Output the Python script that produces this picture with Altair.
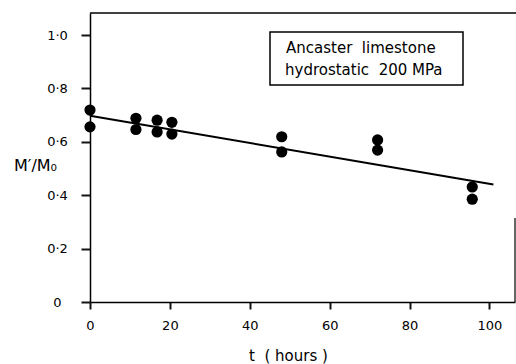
import altair as alt
import pandas as pd

# ---- data ----
t_hours = [0, 0, 11.5, 11.5, 16.8, 16.8, 20.5, 20.5, 48, 48, 72, 72, 95.7, 95.7]
m_ratio = [0.719, 0.656, 0.688, 0.646, 0.681, 0.637, 0.673, 0.629,
           0.619, 0.562, 0.607, 0.569, 0.431, 0.385]

fit_t = [0, 101]
fit_m = [0.698, 0.440]

x_ticks = [0, 20, 40, 60, 80, 100]
y_ticks = [0, 0.2, 0.4, 0.6, 0.8, 1.0]
y_labels = ["0", "0·2", "0·4", "0·6", "0·8", "1·0"]

box_lines = ["Ancaster\u00a0\u00a0limestone", "hydrostatic\u00a0\u00a0200\u00a0MPa"]

X_MAX = 106.4
Y_MAX = 1.0825
W, H = 425, 289
FONT = "DejaVu Sans"
INK = "#141414"

pts = pd.DataFrame({"t": t_hours, "m": m_ratio})
fit = pd.DataFrame({"t": fit_t, "m": fit_m})

label_expr = " : ".join(
    f"abs(datum.value - {v}) < 1e-6 ? '{l}'" for v, l in zip(y_ticks, y_labels)
) + " : ''"

xscale = alt.Scale(domain=[0, X_MAX], nice=False, zero=False)
yscale = alt.Scale(domain=[0, Y_MAX], nice=False, zero=False)

xaxis = alt.Axis(
    values=x_ticks, grid=False, ticks=True, tickSize=7, tickWidth=2, tickColor=INK,
    title="t\u00a0\u00a0( hours )",
    domainWidth=1.5, domainColor="black", labelFlush=False,
    labelFont=FONT, labelFontSize=13, labelColor="black", labelPadding=10,
    titleFont=FONT, titleFontSize=15, titleFontWeight="normal", titleColor="black",
    titleX=198, titleY=58, titleBaseline="alphabetic", titleAlign="center",
)
yaxis = alt.Axis(
    values=y_ticks, grid=False, ticks=True, tickSize=9, tickWidth=2, tickColor=INK,
    title="M′/M₀",
    domainWidth=1.5, domainColor="black", labelFlush=False,
    labelExpr=label_expr, labelAlign="center", labelPadding=24,
    labelFont=FONT, labelFontSize=13, labelColor="black",
    titleFont=FONT, titleFontSize=16, titleFontWeight="normal", titleColor="black",
    titleAngle=0, titleX=-55, titleY=152, titleAlign="center", titleBaseline="middle",
)

points = alt.Chart(pts).mark_circle(size=125, color="black", opacity=1).encode(
    x=alt.X("t:Q", scale=xscale, axis=xaxis),
    y=alt.Y("m:Q", scale=yscale, axis=yaxis),
)

line = alt.Chart(fit).mark_line(color="black", strokeWidth=2).encode(
    x=alt.X("t:Q", scale=xscale, axis=xaxis),
    y=alt.Y("m:Q", scale=yscale, axis=yaxis),
)

one = pd.DataFrame({"a": [0]})

top_frame = alt.Chart(one).mark_rule(color="black", strokeWidth=1.5).encode(
    x=alt.value(0), x2=alt.value(W + 1), y=alt.value(0)
)
right_frame = alt.Chart(one).mark_rule(color="black", strokeWidth=1.2).encode(
    x=alt.value(W), y=alt.value(205), y2=alt.value(H)
)

box = alt.Chart(one).mark_rect(
    fill="white", stroke="black", strokeWidth=1.5
).encode(x=alt.value(180), x2=alt.value(373), y=alt.value(19), y2=alt.value(72))

txt1 = alt.Chart(one).mark_text(
    font=FONT, fontSize=15, color="black", align="left", baseline="alphabetic",
    text=box_lines[0],
).encode(x=alt.value(196), y=alt.value(40))
txt2 = alt.Chart(one).mark_text(
    font=FONT, fontSize=15, color="black", align="left", baseline="alphabetic",
    text=box_lines[1],
).encode(x=alt.value(195), y=alt.value(62))

chart = alt.layer(points, line, top_frame, right_frame, box, txt1, txt2).properties(
    width=W, height=H, autosize="none",
    padding={"left": 90, "top": 13, "right": 1, "bottom": 62},
    background="white",
).configure_view(stroke=None)

chart.save("out.html", embed_options={"renderer": "svg", "actions": False})
